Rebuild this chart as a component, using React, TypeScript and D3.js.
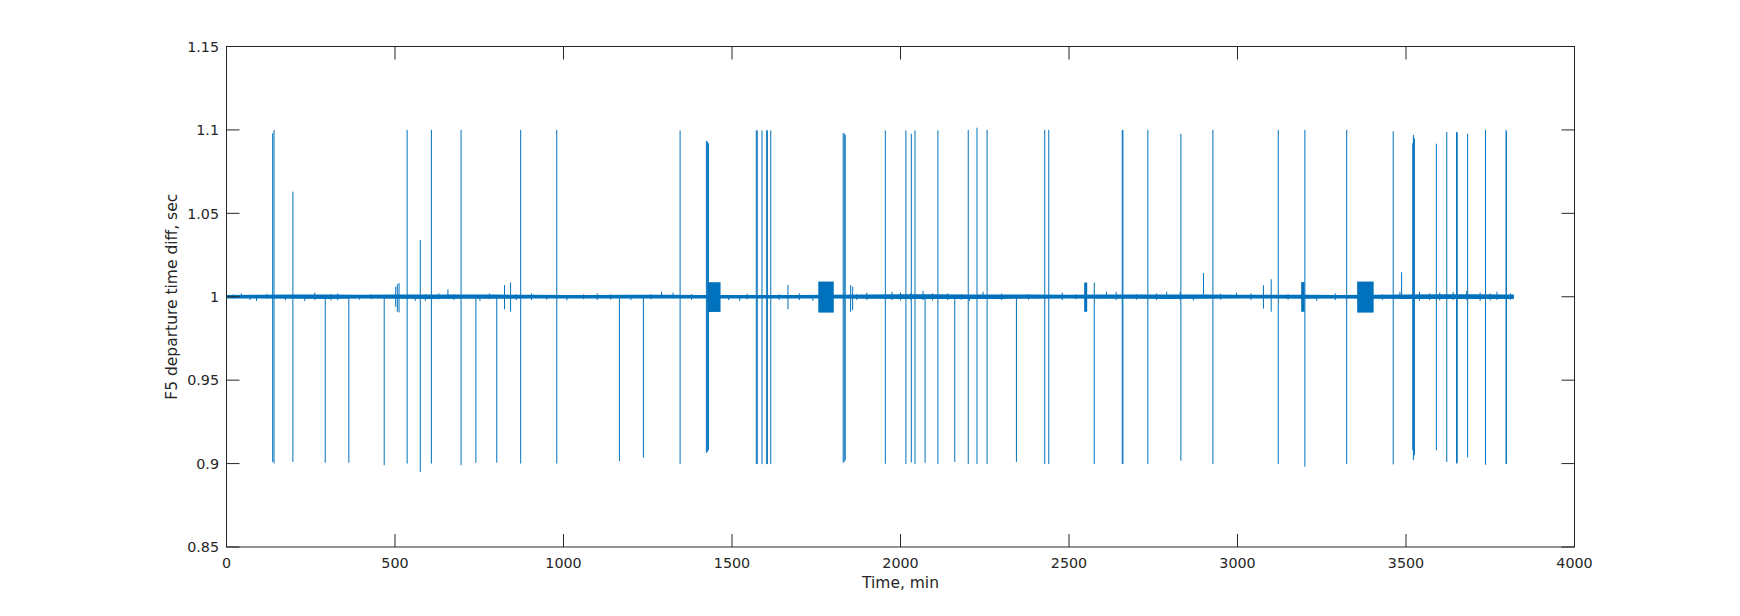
import React from "react";
import * as d3 from "d3";

// isolated departure-time glitches: time (min), max and min value reached
const spikeTime = [
  137, 141, 197, 293, 363, 468, 502, 507, 512, 536, 575, 608, 657, 696, 740, 802, 825, 843, 873, 980,
  1166, 1237, 1346, 1424, 1427, 1430, 1572, 1575, 1589, 1603, 1605, 1615, 1666, 1830, 1833, 1836, 1852,
  1858, 1955, 2016, 2032, 2043, 2073, 2111, 2161, 2201, 2227, 2257, 2344, 2428, 2440, 2575, 2658, 2660,
  2734, 2832, 2899, 2927, 3077, 3100, 3121, 3200, 3324, 3462, 3487, 3520, 3522, 3525, 3590, 3621, 3650,
  3652, 3683, 3736, 3797, 3798,
];
const spikeHi = [
  1.098, 1.1, 1.063, 1.001, 1.001, 1.001, 1.006, 1.0075, 1.0083, 1.1, 1.034, 1.1, 1.0045, 1.1, 1.001,
  1.001, 1.007, 1.0085, 1.1, 1.1,
  1.001, 1.001, 1.0997, 1.0933, 1.093, 1.092, 1.0997, 1.0997, 1.0997, 1.0997, 1.0997, 1.0997, 1.007,
  1.098, 1.098, 1.097, 1.007,
  1.006, 1.0997, 1.0997, 1.0977, 1.0997, 1.001, 1.0997, 1.001, 1.1, 1.1013, 1.1, 1.001, 1.1, 1.1,
  1.0085, 1.1, 1.1,
  1.1, 1.0977, 1.0143, 1.1, 1.0069, 1.0105, 1.1, 1.1, 1.1, 1.0992, 1.0147, 1.092, 1.097, 1.095, 1.0917,
  1.0987, 1.0987,
  1.0985, 1.0977, 1.1, 1.1, 1.099,
];
const spikeLo = [
  0.901, 0.9, 0.901, 0.9005, 0.9005, 0.899, 0.994, 0.991, 0.9906, 0.9, 0.895, 0.9, 0.999, 0.899, 0.9005,
  0.9005, 0.9925, 0.991, 0.9, 0.9,
  0.9015, 0.9037, 0.8997, 0.9065, 0.907, 0.908, 0.8997, 0.8997, 0.8997, 0.8997, 0.8997, 0.8997, 0.9925,
  0.9005, 0.901, 0.902, 0.991,
  0.992, 0.8999, 0.8997, 0.9007, 0.8997, 0.9005, 0.8997, 0.901, 0.8997, 0.8997, 0.8997, 0.901, 0.8997,
  0.8997, 0.8997, 0.8997, 0.8997,
  0.8997, 0.9017, 0.999, 0.8997, 0.9929, 0.991, 0.8997, 0.8981, 0.8997, 0.8995, 0.999, 0.908, 0.902,
  0.905, 0.908, 0.901, 0.9,
  0.9005, 0.9037, 0.8993, 0.8997, 0.9,
];

// dense oscillation bursts: start, end (min), upper and lower value
const burstStart = [1428, 1756, 2545, 3189, 3355];
const burstEnd = [1466, 1802, 2554, 3199, 3404];
const burstHi = [1.0087, 1.0091, 1.0085, 1.0088, 1.0091];
const burstLo = [0.9909, 0.9905, 0.991, 0.991, 0.9905];

// envelope of the ordinary jitter around 1 s
const noiseTime = [
  0, 100, 200, 300, 400, 500, 600, 700, 800, 900, 1000, 1100, 1200, 1300, 1400, 1500, 1600, 1700, 1800,
  1900, 2000, 2100, 2200, 2300, 2400, 2500, 2600, 2700, 2800, 2900, 3000, 3100, 3200, 3300, 3400, 3500,
  3600, 3700, 3800, 3820,
];
const noiseHi = [
  1.0011, 1.0012, 1.0013, 1.0014, 1.0012, 1.0013, 1.0014, 1.0013, 1.0013, 1.0012, 1.0011, 1.0011, 1.0012,
  1.0012, 1.0011, 1.0011, 1.0011, 1.0011, 1.0012, 1.0013, 1.0015, 1.0015, 1.0014, 1.0014, 1.0013, 1.0012,
  1.0013, 1.0013, 1.0014, 1.0013, 1.0012, 1.0012, 1.0012, 1.0011, 1.0012, 1.0014, 1.0015, 1.0015, 1.0014,
  1.0014,
];
const noiseLo = [
  0.999, 0.9989, 0.9988, 0.9987, 0.9989, 0.9988, 0.9987, 0.9988, 0.9988, 0.9989, 0.9989, 0.999, 0.9989,
  0.9989, 0.999, 0.9989, 0.9989, 0.999, 0.9989, 0.9988, 0.9986, 0.9986, 0.9987, 0.9987, 0.9988, 0.9989,
  0.9988, 0.9988, 0.9987, 0.9988, 0.9989, 0.9989, 0.9988, 0.9989, 0.9988, 0.9987, 0.9986, 0.9986, 0.9987,
  0.9987,
];

// small excursions out of the jitter band
const blipTime = [
  20, 44, 70, 89, 120, 175, 232, 262, 310, 330, 395, 430, 560, 590, 630, 675, 752, 780, 860, 905, 950,
  1010, 1060, 1100, 1140, 1200, 1260, 1291, 1325, 1380, 1490, 1523, 1545, 1640, 1700, 1740, 1870, 1900,
  1975, 2000, 2030, 2067, 2095, 2140, 2180, 2205, 2245, 2300, 2380, 2480, 2520, 2611, 2640, 2700, 2760,
  2790, 2830, 2869, 2950, 2997, 3040, 3150, 3235, 3290, 3430, 3482, 3540, 3570, 3600, 3640, 3680, 3720,
  3750, 3770, 3810,
];
const blipHi = [
  1.0015, 1.002, 1.001, 1.001, 1.0018, 1.001, 1.001, 1.0025, 1.0015, 1.002, 1.001, 1.0015, 1.001, 1.0015,
  1.002, 1.0015, 1.001, 1.002, 1.0015, 1.002, 1.001, 1.001, 1.0015, 1.002, 1.0015, 1.001, 1.0015, 1.003,
  1.0025, 1.0015, 1.001, 1.001, 1.0018, 1.0015, 1.002, 1.001, 1.0015, 1.0025, 1.003, 1.0025, 1.002,
  1.0035, 1.002, 1.002, 1.0015, 1.001, 1.003, 1.002, 1.0015, 1.0025, 1.0015, 1.003, 1.003, 1.0015,
  1.002, 1.003, 1.003, 1.001, 1.0018, 1.0025, 1.002, 1.0015, 1.001, 1.002, 1.0015, 1.003, 1.003, 1.002,
  1.0025, 1.003, 1.0035, 1.0025, 1.002, 1.003, 1.002,
];
const blipLo = [
  0.999, 0.999, 0.998, 0.9975, 0.9988, 0.998, 0.9975, 0.998, 0.9978, 0.998, 0.9982, 0.9985, 0.9975,
  0.9975, 0.9985, 0.998, 0.9975, 0.9985, 0.998, 0.998, 0.9982, 0.9978, 0.9985, 0.998, 0.9982, 0.998,
  0.9985, 0.999, 0.999, 0.9982, 0.998, 0.9975, 0.9985, 0.998, 0.998, 0.9975, 0.9982, 0.998, 0.998,
  0.9978, 0.9982, 0.998, 0.9978, 0.998, 0.9982, 0.9975, 0.999, 0.998, 0.9982, 0.998, 0.9985, 0.999,
  0.998, 0.9982, 0.998, 0.999, 0.998, 0.9978, 0.9982, 0.999, 0.998, 0.9982, 0.9975, 0.998, 0.9982,
  0.999, 0.9975, 0.998, 0.9978, 0.998, 0.998, 0.9975, 0.9978, 0.998, 0.9982,
];

const xTicks = [0, 500, 1000, 1500, 2000, 2500, 3000, 3500, 4000];
const yTicks = [0.85, 0.9, 0.95, 1, 1.05, 1.1, 1.15];
const yTickLabels = ["0.85", "0.9", "0.95", "1", "1.05", "1.1", "1.15"];

const W = 1740;
const H = 616;
const axisColor = "#262626";
const lineColor = "#0072BD";
const font = "'DejaVu Sans', sans-serif";

export default function App() {
  const x = d3.scaleLinear().domain([0, 4000]).range([226.5, 1574.5]);
  const y = d3.scaleLinear().domain([0.85, 1.15]).range([547, 46.5]);
  const tick = 13;

  const noise = noiseTime.map((t, i) => ({ t, hi: noiseHi[i], lo: noiseLo[i] }));
  const band = d3
    .area<{ t: number; hi: number; lo: number }>()
    .x((d) => x(d.t))
    .y0((d) => y(d.lo))
    .y1((d) => y(d.hi));

  const [x0, x1] = x.range();
  const [y0, y1] = y.range();

  return (
    <svg width={W} height={H} style={{ position: "absolute", left: 0, top: 0, background: "#fff" }}>
      <rect x={0} y={0} width={W} height={H} fill="#fff" />
      <g>
        <path d={band(noise) || ""} fill={lineColor} />
        {blipTime.map((t, i) => (
          <line key={"b" + i} x1={x(t)} x2={x(t)} y1={y(blipLo[i])} y2={y(blipHi[i])} stroke={lineColor} strokeWidth={1} />
        ))}
        {burstStart.map((s, i) => (
          <rect
            key={"r" + i}
            x={x(s)}
            width={x(burstEnd[i]) - x(s)}
            y={y(burstHi[i])}
            height={y(burstLo[i]) - y(burstHi[i])}
            fill={lineColor}
          />
        ))}
        {spikeTime.map((t, i) => (
          <line key={"s" + i} x1={x(t)} x2={x(t)} y1={y(spikeLo[i])} y2={y(spikeHi[i])} stroke={lineColor} strokeWidth={1} />
        ))}
      </g>

      {/* axes box */}
      <rect x={x0} y={y1} width={x1 - x0} height={y0 - y1} fill="none" stroke={axisColor} strokeWidth={1} />

      {xTicks.map((t) => (
        <g key={"xt" + t}>
          <line x1={x(t)} x2={x(t)} y1={y0} y2={y0 - tick} stroke={axisColor} />
          <line x1={x(t)} x2={x(t)} y1={y1} y2={y1 + tick} stroke={axisColor} />
          <text x={x(t)} y={568} textAnchor="middle" fontFamily={font} fontSize={14.3} fill={axisColor}>
            {t}
          </text>
        </g>
      ))}
      {yTicks.map((v, i) => (
        <g key={"yt" + v}>
          <line x1={x0} x2={x0 + tick} y1={y(v)} y2={y(v)} stroke={axisColor} />
          <line x1={x1} x2={x1 - tick} y1={y(v)} y2={y(v)} stroke={axisColor} />
          <text x={219} y={y(v) + 5.2} textAnchor="end" fontFamily={font} fontSize={14.3} fill={axisColor}>
            {yTickLabels[i]}
          </text>
        </g>
      ))}

      <text x={(x0 + x1) / 2} y={588} textAnchor="middle" fontFamily={font} fontSize={15.5} fill={axisColor}>
        Time, min
      </text>
      <text
        transform={`translate(177,${(y0 + y1) / 2}) rotate(-90)`}
        textAnchor="middle"
        fontFamily={font}
        fontSize={15.5}
        fill={axisColor}
      >
        F5 departure time diff, sec
      </text>
    </svg>
  );
}
